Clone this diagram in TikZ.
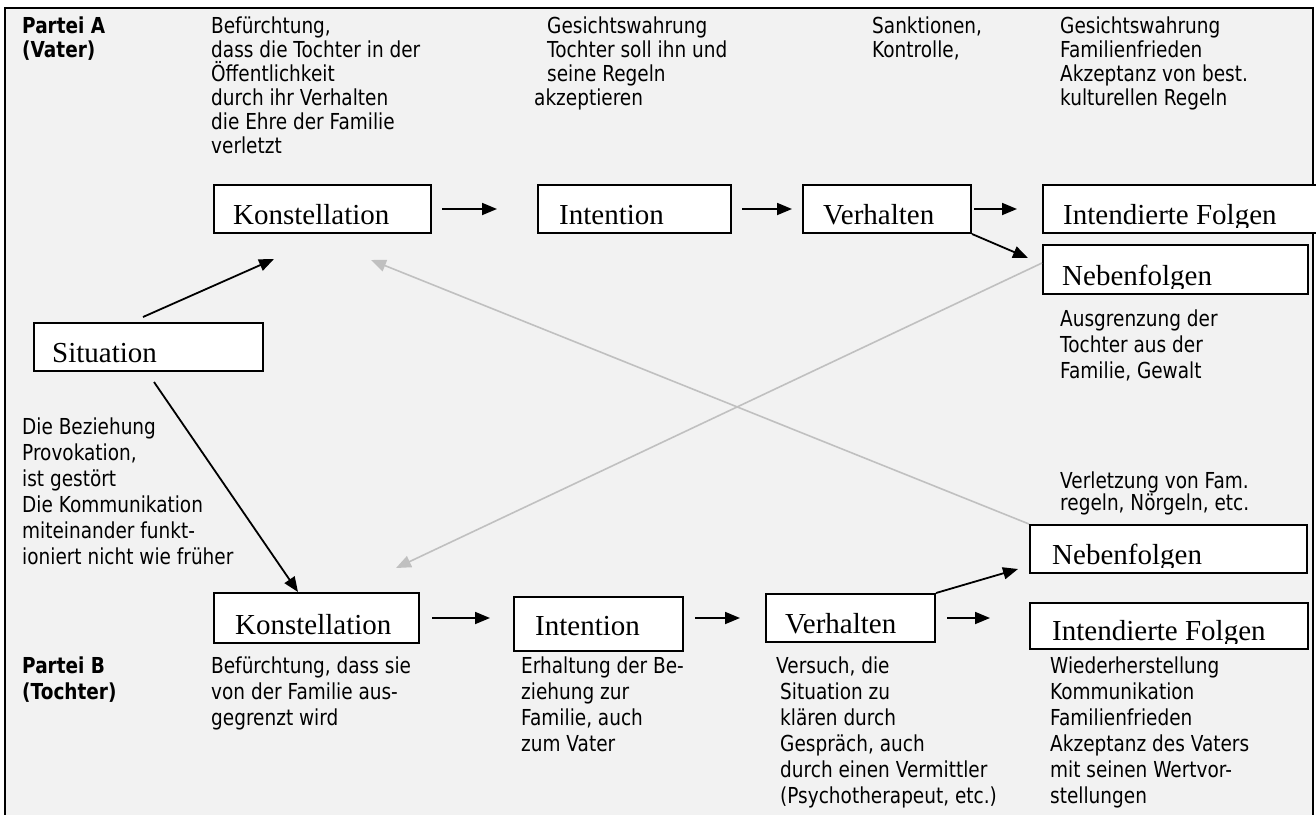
\documentclass[tikz,border=0pt]{standalone}
\usepackage{fontspec}
\setmainfont{Liberation Serif}
\newfontfamily\tah[FakeStretch=0.84]{DejaVu Sans}
\usetikzlibrary{arrows.meta,calc}
\definecolor{bg}{HTML}{F2F2F2}
\definecolor{gr}{HTML}{C0C0C0}
\begin{document}
\begin{tikzpicture}[x=1pt,y=-1pt,
  bx/.style={draw=black,line width=2pt,fill=white,inner sep=0pt,anchor=north west},
  lbl/.style={font=\fontsize{29}{32}\selectfont,inner sep=0pt,anchor=base west},
  txt/.style={font=\tah\fontsize{22}{26}\selectfont,align=left,inner sep=0pt,anchor=north west,execute at begin node=\strut},
  arr/.style={line width=1.8pt,-{Triangle[length=15pt,width=12pt]}},
  garr/.style={draw=gr,line width=1.6pt,-{Triangle[length=15pt,width=12pt]}}
]
\useasboundingbox (0,0) rectangle (1316,814);
\fill[white] (0,0) rectangle (1316,814);
\draw[fill=bg,line width=2.5pt] (5,840) -- (5,8) -- (1313,8) -- (1313,840);

% ---------- boxes ----------
\node[bx,minimum width=217pt,minimum height=48pt] (kA) at (213,184) {};
\node[bx,minimum width=193pt,minimum height=48pt] (iA) at (537,184) {};
\node[bx,minimum width=168pt,minimum height=48pt] (vA) at (802,184) {};
\node[bx,minimum width=290pt,minimum height=48pt] (fA) at (1042,184) {};
\node[bx,minimum width=265pt,minimum height=49pt] (nA) at (1042,244) {};
\node[bx,minimum width=229pt,minimum height=48pt] (sit) at (33,322) {};
\node[bx,minimum width=205pt,minimum height=50pt] (kB) at (213,592) {};
\node[bx,minimum width=169pt,minimum height=54pt] (iB) at (513,596) {};
\node[bx,minimum width=169pt,minimum height=48pt] (vB) at (765,593) {};
\node[bx,minimum width=277pt,minimum height=48pt] (nB) at (1029,524) {};
\node[bx,minimum width=278pt,minimum height=46pt] (fB) at (1029,602) {};

% ---------- box labels (clipped at the bottom like the original) ----------
\foreach \b/\dx/\dy/\t in {kA/20/10/Konstellation, iA/22/10/Intention, vA/21/10/Verhalten,
  fA/21/10/Intendierte Folgen, nA/20/10/Nebenfolgen, sit/19/10/Situation,
  kB/22/10/Konstellation, iB/22/17/Intention, vB/20/10/Verhalten,
  nB/23/10/Nebenfolgen, fB/23/10/Intendierte Folgen}{
  \begin{scope}
    \clip ([yshift=\dy pt-3pt]\b.south west) rectangle (\b.north east);
    \node[lbl] (\b t) at ([xshift=\dx pt,yshift=\dy pt]\b.south west) {\t};
  \end{scope}
}

% ---------- texts ----------
\node[txt,font=\tah\bfseries\fontsize{22}{24}\selectfont] (pA) at (22,17) {Partei A\\(Vater)};
\node[txt,font=\tah\fontsize{22}{24}\selectfont] (tA1) at (211,17) {Befürchtung,\\dass die Tochter in der\\Öffentlichkeit\\durch ihr Verhalten\\die Ehre der Familie\\verletzt};
\node[txt,font=\tah\fontsize{22}{24}\selectfont] (tA2) at (534,17) {\hspace*{13pt}Gesichtswahrung\\\hspace*{13pt}Tochter soll ihn und\\\hspace*{13pt}seine Regeln\\akzeptieren};
\node[txt,font=\tah\fontsize{22}{24}\selectfont] (tA3) at (872,17) {Sanktionen,\\Kontrolle,};
\node[txt,font=\tah\fontsize{22}{24}\selectfont] (tA4) at (1060,17) {Gesichtswahrung\\Familienfrieden\\Akzeptanz von best.\\kulturellen Regeln};

\node[txt] (tS) at (22,418) {Die Beziehung\\Provokation,\\ist gestört\\Die Kommunikation\\miteinander funkt-\\ioniert nicht wie früher};
\node[txt] (tNA) at (1060,310) {Ausgrenzung der\\Tochter aus der\\Familie, Gewalt};
\node[txt,font=\tah\fontsize{22}{22}\selectfont] (tNB) at (1060,472) {Verletzung von Fam.\\regeln, Nörgeln, etc.};

\node[txt,font=\tah\bfseries\fontsize{22}{26}\selectfont] (pB) at (22,657) {Partei B\\(Tochter)};
\node[txt] (tB1) at (211,657) {Befürchtung, dass sie\\von der Familie aus-\\gegrenzt wird};
\node[txt] (tB2) at (521,657) {Erhaltung der Be-\\ziehung zur\\Familie, auch\\zum Vater};
\node[txt] (tB3) at (776,657) {Versuch, die\\\hspace*{4pt}Situation zu\\\hspace*{4pt}klären durch\\\hspace*{4pt}Gespräch, auch\\\hspace*{4pt}durch einen Vermittler\\\hspace*{4pt}(Psychotherapeut, etc.)};
\node[txt] (tB4) at (1050,657) {Wiederherstellung\\Kommunikation\\Familienfrieden\\Akzeptanz des Vaters\\mit seinen Wertvor-\\stellungen};

% ---------- gray connectors ----------
\draw[garr] ([yshift=6.5pt]nA.west) -- ([xshift=79.5pt,yshift=24pt]kB.north);
\draw[garr] (nB.north west) -- ([xshift=48.5pt,yshift=-26pt]kA.south);

% ---------- black connectors ----------
\draw[arr,shorten <=10pt,shorten >=40pt] (kA.east) -- (iA.west);
\draw[arr,shorten <=10pt,shorten >=10pt] (iA.east) -- (vA.west);
\draw[arr,shorten <=2pt,shorten >=25pt] (vA.east) -- (fA.west);
\draw[arr] (vA.south east) -- ([xshift=-14pt,yshift=11.5pt]nA.west);
\draw[arr] ([xshift=-5.5pt,yshift=5pt]sit.north) -- ([xshift=-48.5pt,yshift=-25pt]kA.south);
\draw[arr] ([xshift=5.5pt,yshift=-10pt]sit.south) -- ([xshift=-18.5pt]kB.north);
\draw[arr,shorten <=12pt,shorten >=23pt] (kB.east) -- (kB.east -| iB.west);
\draw[arr,shorten <=11pt,shorten >=25pt] (vB.west -| iB.east) -- (vB.west);
\draw[arr,shorten <=11pt,shorten >=39pt] (vB.east) -- (vB.east -| fB.west);
\draw[arr] (vB.north east) -- ([xshift=-11pt,yshift=-20pt]nB.west);
\end{tikzpicture}
\end{document}
